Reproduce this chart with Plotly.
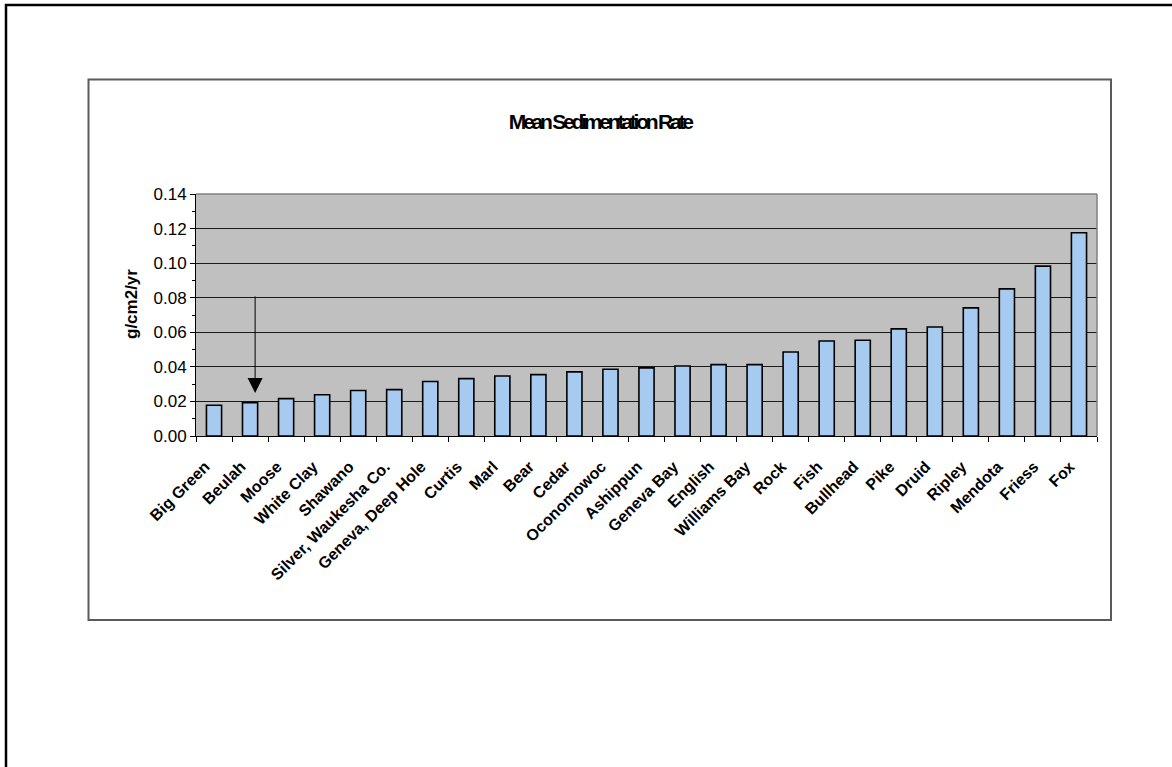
import plotly.graph_objects as go

# Lakes ordered by mean sedimentation rate (g/cm2/yr)
lakes = [
    "Big Green", "Beulah", "Moose", "White Clay", "Shawano",
    "Silver, Waukesha Co.", "Geneva, Deep Hole", "Curtis", "Marl", "Bear",
    "Cedar", "Oconomowoc", "Ashippun", "Geneva Bay", "English",
    "Williams Bay", "Rock", "Fish", "Bullhead", "Pike",
    "Druid", "Ripley", "Mendota", "Friess", "Fox",
]
rates = [
    0.0178, 0.0193, 0.0216, 0.0239, 0.0263,
    0.0268, 0.0315, 0.0332, 0.0347, 0.0355,
    0.0371, 0.0386, 0.0394, 0.0405, 0.0413,
    0.0413, 0.0486, 0.0550, 0.0554, 0.0620,
    0.0631, 0.0741, 0.0851, 0.0983, 0.1176,
]
y_ticks = [0.00, 0.02, 0.04, 0.06, 0.08, 0.10, 0.12, 0.14]
y_tick_text = ["0.00", "0.02", "0.04", "0.06", "0.08", "0.10", "0.12", "0.14"]

# Arrow pointing at Beulah
arrow_x = 1.14
arrow_tip = 0.0249
arrow_tail = 0.0816

W, H = 1172, 767
L, R, T, B = 196, 1097, 194, 436  # plot area in pixels


def px_x(px):
    return (px - L) / (R - L)


def px_y(py):
    return (B - py) / (B - T)


FONT = "Arial, Liberation Sans, sans-serif"

fig = go.Figure(
    go.Bar(
        x=lakes,
        y=rates,
        width=0.42,
        marker=dict(color="#A6CAF0", line=dict(color="#000000", width=1.6)),
        hoverinfo="x+y",
    )
)

fig.update_layout(
    width=W,
    height=H,
    margin=dict(l=L, r=W - R, t=T, b=H - B, pad=0),
    paper_bgcolor="white",
    plot_bgcolor="#C0C0C0",
    showlegend=False,
)

fig.update_xaxes(
    type="category",
    tickangle=-45,
    tickfont=dict(family=FONT, size=16, color="black", weight="bold"),
    ticklabelstandoff=14,
    ticklabelshift=-9,
    showline=True, linecolor="black", linewidth=1,
    ticks="outside", ticklen=5, tickcolor="black", tickwidth=1,
    tickson="boundaries",
    showgrid=False,
    mirror=False,
)

fig.update_yaxes(
    range=[0, 0.14],
    tickvals=y_ticks,
    ticktext=y_tick_text,
    tickfont=dict(family=FONT, size=17, color="black"),
    showline=True, linecolor="black", linewidth=1,
    ticks="outside", ticklen=5, tickcolor="black", tickwidth=1,
    minor=dict(dtick=0.01, ticks="outside", ticklen=3, tickcolor="black", showgrid=False),
    showgrid=True, gridcolor="#1a1a1a", gridwidth=1,
    zeroline=False,
)

shapes = [
    # outer page frame
    dict(type="rect", xref="paper", yref="paper",
         x0=px_x(6), x1=px_x(1200), y0=px_y(5), y1=px_y(800),
         line=dict(color="black", width=2.5), fillcolor="rgba(0,0,0,0)", layer="above"),
    # chart frame
    dict(type="rect", xref="paper", yref="paper",
         x0=px_x(88.5), x1=px_x(1111), y0=px_y(79.5), y1=px_y(620),
         line=dict(color="#5a5a5a", width=2), fillcolor="rgba(0,0,0,0)", layer="below"),
    # plot area border (top and right)
    dict(type="line", xref="paper", yref="paper", x0=0, x1=1, y0=1, y1=1,
         line=dict(color="#808080", width=1.5)),
    dict(type="line", xref="paper", yref="paper", x0=1, x1=1, y0=0, y1=1,
         line=dict(color="#808080", width=1.5)),
]
fig.update_layout(shapes=shapes)

# Chart title
fig.add_annotation(
    text="<b>Mean Sedimentation Rate</b>",
    xref="paper", yref="paper", x=px_x(599.5), y=px_y(121),
    xanchor="center", yanchor="middle", showarrow=False,
    font=dict(family=FONT, size=21, color="black"),
)

# Y-axis title
fig.add_annotation(
    text="<b>g/cm2/yr</b>",
    xref="paper", yref="paper", x=px_x(131), y=px_y(304),
    xanchor="center", yanchor="middle", showarrow=False, textangle=-90,
    font=dict(family=FONT, size=17, color="black"),
)

fig.add_annotation(
    x=arrow_x, y=arrow_tip, xref="x", yref="y",
    ax=arrow_x, ay=arrow_tail, axref="x", ayref="y",
    text="", showarrow=True,
    arrowhead=2, arrowsize=3, arrowwidth=1, arrowcolor="black",
)

# Tight letter spacing for the chart title
post = """
document.querySelectorAll('.annotation-text').forEach(function(t){
  if (t.textContent === 'Mean Sedimentation Rate') {
    t.setAttribute('letter-spacing', '-3.2px');
  }
});
"""

fig.write_html("out.html", post_script=post)
